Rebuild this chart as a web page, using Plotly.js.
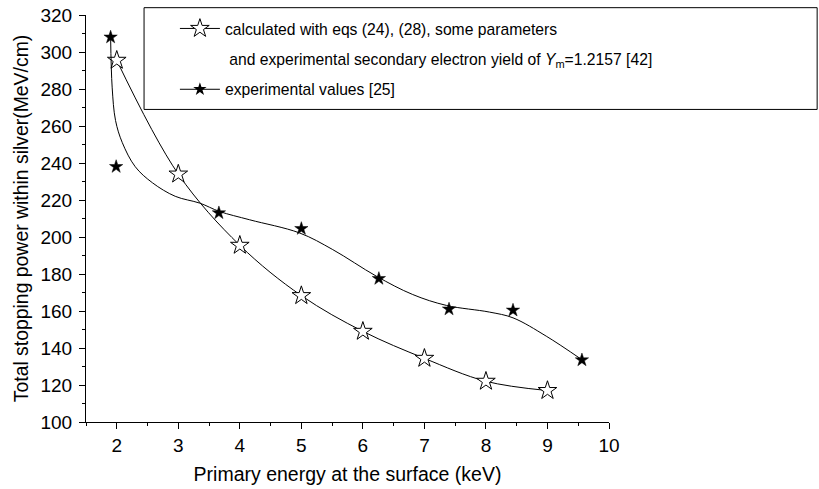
<!DOCTYPE html>
<html>
<head>
<meta charset="utf-8">
<script src="https://cdn.plot.ly/plotly-3.0.1.min.js"></script>
<style>html,body{margin:0;padding:0;background:#fff;}#chart{width:819px;height:489px;}</style>
</head>
<body>
<div id="chart"></div>
<script>
// Calculated values (open stars)
var calcX = [2, 3, 4, 5, 6, 7, 8, 9];
var calcY = [295.5, 234, 195.5, 168.3, 149, 134.4, 122, 117];

// Experimental values (filled stars)
var expX = [1.9, 1.99, 3.66, 5.0, 6.26, 7.4, 8.44, 9.56];
var expY = [308, 238, 213, 204.5, 177.5, 161, 160.4, 133.5];

var fitX = [1.90, 1.925, 1.98, 2.09, 2.30, 2.58, 2.95, 3.35, 3.67, 4.16, 4.97, 5.51, 6.22, 6.81, 7.36, 8.06, 8.44, 8.98, 9.55];
var fitY = [308, 281, 263, 251, 238, 229.3, 222, 218.3, 213.8, 209.3, 202.2, 193.2, 178.8, 168.9, 163.0, 159.4, 156.3, 146.4, 133.9];

var legendLine1 = 'calculated with eqs (24), (28), some parameters';
var legendLine2 = ' and experimental secondary electron yield of <i>Y</i><sub>m</sub>=1.2157 [42]';
var legendLine3 = 'experimental values [25]';

var xTitle = 'Primary energy at the surface (keV)';
var yTitle = 'Total stopping power within silver(MeV/cm)';

var FONT = 'Liberation Sans, Arial, sans-serif';

var traces = [
  {
    x: calcX, y: calcY, mode: 'lines+markers', name: legendLine1,
    legendgroup: 'a',
    line: {color: '#000', width: 1, shape: 'spline', smoothing: 1},
    marker: {symbol: 'star', size: 14, color: '#fff', line: {color: '#000', width: 1}},
    hoverinfo: 'x+y'
  },
  {
    x: [null], y: [null], mode: 'lines', name: legendLine2,
    legendgroup: 'b',
    line: {color: 'rgba(0,0,0,0)', width: 0},
    hoverinfo: 'skip'
  },
  {
    x: fitX, y: fitY, mode: 'lines', showlegend: false,
    line: {color: '#000', width: 1, shape: 'spline', smoothing: 1},
    hoverinfo: 'skip'
  },
  {
    x: expX, y: expY, mode: 'markers', showlegend: false,
    marker: {symbol: 'star', size: 10, color: '#000', line: {color: '#000', width: 0.5}},
    hoverinfo: 'x+y'
  },
  {
    x: [null], y: [null], mode: 'lines+markers', name: legendLine3,
    legendgroup: 'c',
    line: {color: '#000', width: 1},
    marker: {symbol: 'star', size: 10, color: '#000'},
    hoverinfo: 'skip'
  }
];

var axisCommon = {
  showgrid: false, zeroline: false, showline: true, linecolor: '#000', linewidth: 1,
  ticks: 'outside', ticklen: 6, tickwidth: 1, tickcolor: '#000',
  tickfont: {family: FONT, size: 19, color: '#000'},
  mirror: false
};

var layout = {
  width: 819, height: 489,
  margin: {l: 86, r: 210, t: 15, b: 67},
  paper_bgcolor: '#fff', plot_bgcolor: '#fff',
  font: {family: FONT, size: 16, color: '#000'},
  xaxis: Object.assign({}, axisCommon, {
    range: [1.5, 10], dtick: 1, tick0: 0,
    minor: {dtick: 0.5, ticks: 'outside', ticklen: 3, tickcolor: '#000'},
    ticklabelstandoff: 0,
    title: {text: xTitle, font: {family: FONT, size: 19.5, color: '#000'}, standoff: 12}
  }),
  yaxis: Object.assign({}, axisCommon, {
    range: [100, 320], dtick: 20, tick0: 0,
    minor: {dtick: 10, ticks: 'outside', ticklen: 3, tickcolor: '#000'},
    ticklabelstandoff: 3,
    title: {text: yTitle, font: {family: FONT, size: 19.4, color: '#000'}, standoff: 6}
  }),
  showlegend: true,
  legend: {
    x: 0.17, xanchor: 'left', y: 1.008, yanchor: 'top',
    bgcolor: 'rgba(0,0,0,0)', borderwidth: 0,
    traceorder: 'grouped', tracegroupgap: 7, valign: 'middle',
    itemwidth: 40,
    font: {family: FONT, size: 15.7, color: '#000'}
  },
  shapes: [{
    type: 'rect', xref: 'paper', yref: 'paper',
    x0: 0.111, x1: 1.398, y0: 0.768, y1: 1.018,
    line: {color: '#000', width: 1}, fillcolor: 'rgba(0,0,0,0)', layer: 'below'
  }]
};

Plotly.newPlot('chart', traces, layout, {displayModeBar: false, staticPlot: true});
</script>
</body>
</html>
